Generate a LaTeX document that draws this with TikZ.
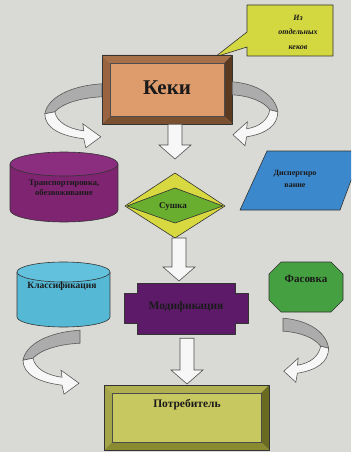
\documentclass[tikz,border=0pt]{standalone}
\usepackage{fontspec}
\setmainfont{Liberation Serif}
\usetikzlibrary{calc}
\definecolor{bg}{HTML}{D9D9D5}
\definecolor{kin}{HTML}{DE9C6C}
\definecolor{ktop}{HTML}{A87048}
\definecolor{kleft}{HTML}{9A6440}
\definecolor{kright}{HTML}{5A3A20}
\definecolor{kbot}{HTML}{7A5030}
\definecolor{pin}{HTML}{C8C860}
\definecolor{ptop}{HTML}{B0B050}
\definecolor{pleft}{HTML}{A4A448}
\definecolor{pright}{HTML}{6A6A20}
\definecolor{pbot}{HTML}{8A8A30}
\definecolor{callout}{HTML}{D4D840}
\definecolor{purp}{HTML}{7E2470}
\definecolor{purptop}{HTML}{8C2E80}
\definecolor{lblue}{HTML}{55B8D5}
\definecolor{lbluetop}{HTML}{62C2DE}
\definecolor{pblue}{HTML}{3C88CC}
\definecolor{dyel}{HTML}{D8D840}
\definecolor{dgreen}{HTML}{6AAE30}
\definecolor{modc}{HTML}{5C1A68}
\definecolor{octg}{HTML}{44A040}
\definecolor{txtc}{HTML}{1A1A1A}
\newcommand\hollowarrow[2]{%
  \draw[harrow] let \p1=(#1), \p2=(#2) in
    (\x1-7pt,\y1) -- (\x1-7pt,\y2+14pt) -- (\x1-16pt,\y2+14pt) -- (\x1,\y2)
    -- (\x1+16pt,\y2+14pt) -- (\x1+7pt,\y2+14pt) -- (\x1+7pt,\y1) -- cycle;}
\begin{document}
\begin{tikzpicture}[x=1pt,y=-1pt,
  txt/.style={font=\bfseries, text=txtc, align=center, inner sep=0},
  box/.style={draw=none, inner sep=0},
  outl/.style={draw=black!80, line width=0.6pt, line join=round},
  harrow/.style={fill=white!94!gray, draw=black!70, line width=0.6pt, line join=miter},
  ribbon/.style={fill=gray!65, draw=black!65, line width=0.6pt},
  hollowpart/.style={fill=white!94!gray, draw=black!65, line width=0.6pt},
  curvarrow/.pic={
    \filldraw[ribbon] (0,0) .. controls (-32,2) and (-54,14) .. (-57,30) -- (-47,28)
      .. controls (-40,20) and (-22,14) .. (0,13) -- cycle;
    \filldraw[hollowpart] (-57,30) .. controls (-57,44) and (-42,52) .. (-18,55)
      -- (-16,64) -- (-1,53) -- (-19,40) -- (-18,47)
      .. controls (-34,45) and (-45,38) .. (-47,28) -- cycle;
  }]
\useasboundingbox (0,0) rectangle (351,452);
\fill[bg] (0,0) rectangle (351,452);
\clip (0,0) rectangle (351,452);

% ---- callout
\filldraw[fill=callout, outl] (247,5) -- (333,5) -- (333,56) -- (247,56) -- (247,47) -- (215,57) -- (247,32) -- cycle;
\node[txt, font=\bfseries\itshape\fontsize{8}{14.5}\selectfont] (callout) at (298,32) {Из\\отдельных\\кеков};

% ---- Keki beveled box
\fill[ktop] (102,55) -- (232,55) -- (224,63) -- (110,63) -- cycle;
\fill[kleft] (102,55) -- (110,63) -- (110,116) -- (102,124) -- cycle;
\fill[kright] (232,55) -- (232,124) -- (224,116) -- (224,63) -- cycle;
\fill[kbot] (102,124) -- (232,124) -- (224,116) -- (110,116) -- cycle;
\filldraw[fill=kin, draw=black!70, line width=0.5pt] (110,63) rectangle (224,116);
\draw[outl] (102,55) rectangle (232,124);
\node[box, minimum width=130pt, minimum height=69pt] (keki) at (167,89.5) {};
\node[txt, font=\bfseries\fontsize{21}{22}\selectfont] at (167,88) {Кеки};

% ---- curved arrows at top
\pic at ($(keki.north west)+(0,29)$) {curvarrow};
\pic[xscale=-0.8] at ($(keki.north east)+(0,27)$) {curvarrow};

% ---- transport cylinder
\node[box, minimum width=108pt, minimum height=70pt] (transp) at (64,187) {};
\fill[purp] (10,164) rectangle (118,210);
\fill[purp] (64,210) ellipse [x radius=54, y radius=12];
\draw[outl] (10,164) -- (10,210) arc[start angle=180, end angle=0, x radius=54, y radius=12] -- (118,164);
\filldraw[fill=purptop, outl] (64,164) ellipse [x radius=54, y radius=12];
\node[txt, font=\bfseries\fontsize{8.5}{10.5}\selectfont] at (64,188) {Транспортировка,\\обезвоживание};

% ---- dispersing parallelogram
\filldraw[fill=pblue, outl] (267,151) -- (362,151) -- (340,210) -- (240,210) -- cycle;
\node[box, minimum width=100pt, minimum height=59pt] (disp) at (300,180) {};
\node[txt, font=\bfseries\fontsize{8}{12}\selectfont] at (295,179) {Диспергиро\\вание};

% ---- Sushka diamond
\filldraw[fill=dyel, outl] (125,206) -- (175,173) -- (225,206) -- (175,238) -- cycle;
\filldraw[fill=dgreen, outl] (127,206) -- (175,188) -- (223,206) -- (175,223) -- cycle;
\node[box, minimum width=100pt, minimum height=65pt] (sushka) at (175,205.5) {};
\node[txt, font=\bfseries\fontsize{9}{10}\selectfont] at (173,206) {Сушка};

% ---- classification cylinder
\node[box, minimum width=93pt, minimum height=65pt] (klass) at (63.5,294.5) {};
\fill[lblue] (17,272) rectangle (110,317);
\fill[lblue] (63.5,317) ellipse [x radius=46.5, y radius=10];
\draw[outl] (17,272) -- (17,317) arc[start angle=180, end angle=0, x radius=46.5, y radius=10] -- (110,272);
\filldraw[fill=lbluetop, outl] (63.5,272) ellipse [x radius=46.5, y radius=10];
\node[txt, font=\bfseries\fontsize{9.5}{10}\selectfont] at (62,286) {Классификация};

% ---- modification shape
\filldraw[fill=modc, outl] (137,283) -- (235,283) -- (235,293) -- (248,293) -- (248,323) -- (235,323)
  -- (235,334) -- (137,334) -- (137,323) -- (124,323) -- (124,293) -- (137,293) -- cycle;
\node[box, minimum width=124pt, minimum height=51pt] (modif) at (186,308.5) {};
\node[txt, font=\bfseries\fontsize{11.5}{12}\selectfont] at (186,307) {Модификация};

% ---- packing octagon
\filldraw[fill=octg, outl] (281,262) -- (331,262) -- (343,274) -- (343,300) -- (331,312) -- (281,312) -- (269,300) -- (269,274) -- cycle;
\node[box, minimum width=74pt, minimum height=50pt] (fasovka) at (306,287) {};
\node[txt, font=\bfseries\fontsize{11}{12}\selectfont] at (306,279) {Фасовка};

% ---- consumer beveled box
\fill[ptop] (104,385) -- (269,385) -- (261,393) -- (112,393) -- cycle;
\fill[pleft] (104,385) -- (112,393) -- (112,442) -- (104,450) -- cycle;
\fill[pright] (269,385) -- (269,450) -- (261,442) -- (261,393) -- cycle;
\fill[pbot] (104,450) -- (269,450) -- (261,442) -- (112,442) -- cycle;
\filldraw[fill=pin, draw=black!70, line width=0.5pt] (112,393) rectangle (261,442);
\draw[outl] (104,385) rectangle (269,450);
\node[box, minimum width=165pt, minimum height=65pt] (potreb) at (186.5,417.5) {};
\node[txt, font=\bfseries\fontsize{11.5}{12}\selectfont] at (187,405) {Потребитель};

% ---- curved arrows at bottom
\pic at ($(klass.south)+(16.5,3)$) {curvarrow};
\pic[xscale=-0.8] at ($(fasovka.south)+(-23,6)$) {curvarrow};

% ---- straight hollow arrows
\coordinate (k1) at (keki.south -| 175,0);
\coordinate (t1) at (175,159);
\hollowarrow{k1}{t1}
\coordinate (s1) at (179,238);
\coordinate (t2) at (179,281);
\hollowarrow{s1}{t2}
\coordinate (m1) at ($(modif.south)+(1,4)$);
\coordinate (t3) at (187,384);
\hollowarrow{m1}{t3}
\end{tikzpicture}
\end{document}
